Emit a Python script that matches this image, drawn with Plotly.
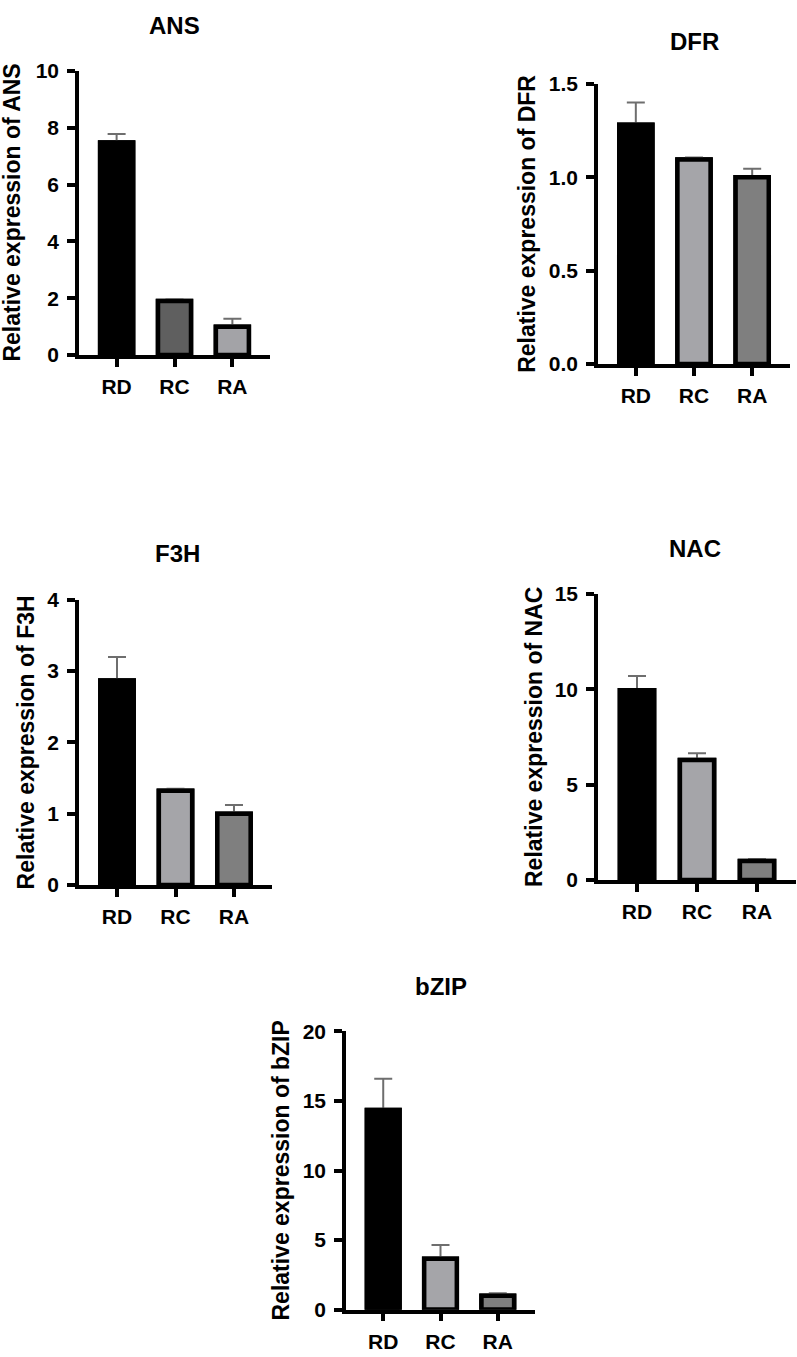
import plotly.graph_objects as go

# ---------------- data ----------------
groups = ["RD", "RC", "RA"]
genes = ["ANS", "DFR", "F3H", "NAC", "bZIP"]

ans_mean = [7.48, 1.90, 1.00]
ans_err = [0.30, 0.06, 0.28]
dfr_mean = [1.28, 1.095, 1.00]
dfr_err = [0.12, 0.01, 0.045]
f3h_mean = [2.87, 1.32, 1.00]
f3h_err = [0.33, 0.03, 0.12]
nac_mean = [9.95, 6.30, 1.00]
nac_err = [0.75, 0.35, 0.10]
bzip_mean = [14.35, 3.65, 1.00]
bzip_err = [2.25, 1.00, 0.17]

y_max = [10, 1.5, 4, 15, 20]
y_dtick = [2, 0.5, 1, 5, 5]
y_format = ["d", ".1f", "d", "d", "d"]

colors_ans = ["#000000", "#5f5f5f", "#a3a3a7"]
colors_other = ["#000000", "#a5a5a9", "#7f7f7f"]

means = [ans_mean, dfr_mean, f3h_mean, nac_mean, bzip_mean]
errs = [ans_err, dfr_err, f3h_err, nac_err, bzip_err]
colors = [colors_ans, colors_other, colors_other, colors_other, colors_other]

# ---------------- layout (pixels) ----------------
W, H = 797, 1357
# x_left, x_right, y_top, y_bottom of each plot area
boxes = [
    (79, 270, 60, 349),
    (598, 790, 73, 358),
    (79, 272, 598, 888),
    (598, 796, 592, 883),
    (346, 535, 1037, 1320),
]
title_pos = [(174, 14), (694, 30), (177, 551), (695, 546), (441, 991)]
ytitle_x = [12.5, 527, 26, 534, 281]

FONT = "Liberation Sans, Arial, sans-serif"

fig = go.Figure()
layout = dict(
    width=W, height=H,
    margin=dict(l=0, r=0, t=0, b=0),
    paper_bgcolor="white", plot_bgcolor="white",
    showlegend=False,
    barmode="overlay",
)
annotations = []

for i, gene in enumerate(genes):
    xa = "x" if i == 0 else f"x{i+1}"
    ya = "y" if i == 0 else f"y{i+1}"
    xl, xr, yt, yb = boxes[i]
    bar_marker = dict(color=colors[i], line=dict(color="black", width=4.5))
    # error bars (symmetric, lower half hidden behind the bars drawn next)
    fig.add_trace(go.Bar(
        x=groups, y=means[i], width=0.57, marker=bar_marker,
        error_y=dict(type="data", array=errs[i], color="#6e6e6e",
                     thickness=2, width=9),
        xaxis=xa, yaxis=ya, showlegend=False, hoverinfo="skip",
    ))
    fig.add_trace(go.Bar(
        x=groups, y=means[i], width=0.57, marker=bar_marker,
        xaxis=xa, yaxis=ya, showlegend=False,
    ))
    axis_common = dict(
        showline=True, linewidth=3.5, linecolor="black",
        ticks="outside", ticklen=8, tickwidth=3.5, tickcolor="black",
        showgrid=False, zeroline=False,
        tickfont=dict(family=FONT, size=21, color="black", weight="bold"),
    )
    layout["xaxis" if i == 0 else f"xaxis{i+1}"] = dict(
        domain=[xl / W, xr / W], anchor=ya, range=[-0.65, 2.65],
        type="category", ticklabelstandoff=2, **axis_common)
    layout["yaxis" if i == 0 else f"yaxis{i+1}"] = dict(
        domain=[1 - yb / H, 1 - yt / H], anchor=xa,
        range=[0, y_max[i]], dtick=y_dtick[i], tick0=0,
        tickformat=y_format[i], ticklabelstandoff=4, **axis_common)
    tx, ty = title_pos[i]
    annotations.append(dict(
        text=gene, x=tx / W, y=1 - ty / H, xref="paper", yref="paper",
        xanchor="center", yanchor="middle", showarrow=False,
        font=dict(family=FONT, size=24, color="black", weight="bold")))
    annotations.append(dict(
        text=f"Relative expression of {gene}", textangle=-90,
        x=ytitle_x[i] / W, y=1 - (yt + yb) / 2 / H,
        xref="paper", yref="paper", xanchor="center", yanchor="middle",
        showarrow=False,
        font=dict(family=FONT, size=23, color="black", weight="bold")))

layout["annotations"] = annotations
fig.update_layout(**layout)
fig.write_html("out.html")
